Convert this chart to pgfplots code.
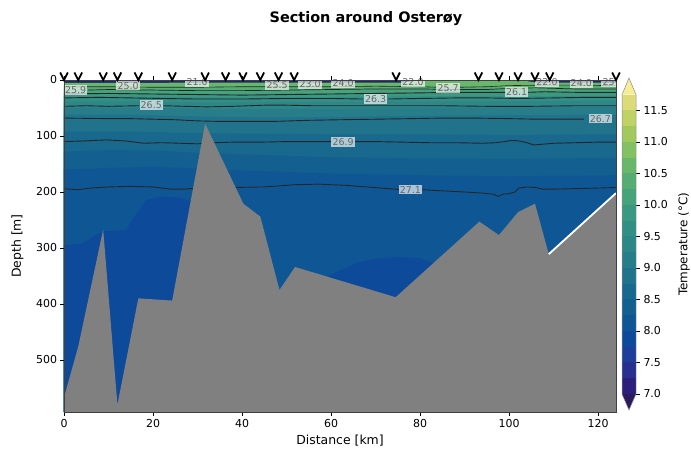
\documentclass[border=0pt]{standalone}
\usepackage{fontspec}
\setmainfont{DejaVu Sans}
\usepackage{pgfplots}
\pgfplotsset{compat=1.18}

\definecolor{bund}{HTML}{2A1A5E}
\definecolor{b0}{HTML}{2C1F7C}
\definecolor{b1}{HTML}{28308F}
\definecolor{b2}{HTML}{1D3F9B}
\definecolor{b3}{HTML}{0E4A9A}
\definecolor{b4}{HTML}{0F5794}
\definecolor{b5}{HTML}{135F90}
\definecolor{b6}{HTML}{19688D}
\definecolor{b7}{HTML}{20738B}
\definecolor{b8}{HTML}{277D8A}
\definecolor{b9}{HTML}{2D8688}
\definecolor{b10}{HTML}{338F86}
\definecolor{b11}{HTML}{3B9982}
\definecolor{b12}{HTML}{47A37C}
\definecolor{b13}{HTML}{56AD74}
\definecolor{b14}{HTML}{69B76B}
\definecolor{b15}{HTML}{84C163}
\definecolor{b16}{HTML}{A2C95E}
\definecolor{b17}{HTML}{C0D265}
\definecolor{b18}{HTML}{DCDB79}
\definecolor{bover}{HTML}{F8ED97}
\definecolor{strip}{HTML}{1F2770}
\definecolor{ground}{HTML}{808080}

\pgfdeclareplotmark{vee}{%
  \pgfsetlinewidth{1.8bp}%
  \pgfpathmoveto{\pgfpoint{-3.8bp}{3.9bp}}%
  \pgfpathlineto{\pgfpoint{0bp}{-3.7bp}}%
  \pgfpathlineto{\pgfpoint{3.8bp}{3.9bp}}%
  \pgfusepathqstroke}

\tikzset{clab/.style={font=\fontsize{9.5}{10}\selectfont, text=black!60, fill=white, fill opacity=0.65, text opacity=1, inner sep=1.2bp}}
\pgfplotsset{cline/.style={black!85, line width=0.9bp, mark=none}}

\begin{document}
\begin{tikzpicture}
\begin{axis}[
  width=552bp, height=332bp, scale only axis,
  xmin=0, xmax=124, ymin=0, ymax=593, y dir=reverse,
  clip=false, axis on top,
  xtick={0,20,40,60,80,100,120}, ytick={0,100,200,300,400,500},
  xtick pos=both, ytick pos=left, tick align=outside,
  major tick length=3.5bp,
  tick style={black, line width=0.6bp},
  axis line style={black!75, line width=0.6bp},
  ticklabel style={font=\fontsize{11}{13}\selectfont},
  /pgf/number format/assume math mode=true,
  xlabel={Distance [km]}, ylabel={Depth [m]},
  label style={font=\fontsize{12.5}{15}\selectfont},
  xlabel style={at={(axis description cs:0.5,-0.0873)}, anchor=center},
  ylabel style={at={(axis description cs:-0.0842,0.5)}, anchor=center},
]
% temperature bands
\addplot[fill=strip, draw=none] coordinates {(0,0)(124,0)(124,593)(0,593)} -- cycle;
\addplot[fill=b14, draw=none] coordinates {(0,5)(20,5)(40,4.5)(60,4.5)(76,4.5)(79,2)(104,2)(106,4.5)(124,5)(124,593)(0,593)} -- cycle;
\addplot[fill=b13, draw=none] coordinates {(0,12)(10,13)(20,12)(30,11)(40,12)(50,11)(60,11)(70,10)(80,10)(90,11)(100,13)(110,10)(124,9)(124,593)(0,593)} -- cycle;
\addplot[fill=b12, draw=none] coordinates {(0,17)(20,17)(40,18)(60,17)(80,16)(100,17)(124,16)(124,593)(0,593)} -- cycle;
\addplot[fill=b11, draw=none] coordinates {(0,23)(20,24)(40,25)(60,24)(80,22)(100,22)(124,22)(124,593)(0,593)} -- cycle;
\addplot[fill=b10, draw=none] coordinates {(0,29)(20,30)(40,31)(60,30)(80,29)(100,29)(124,28)(124,593)(0,593)} -- cycle;
\addplot[fill=b9, draw=none] coordinates {(0,38)(20,39)(40,40)(60,39)(80,38)(100,38)(124,37)(124,593)(0,593)} -- cycle;
\addplot[fill=b8, draw=none] coordinates {(0,49)(20,50)(40,52)(60,51)(80,50)(100,49)(124,48)(124,593)(0,593)} -- cycle;
\addplot[fill=b7, draw=none] coordinates {(0,62)(15,62)(30,65)(45,67)(60,66)(80,64)(100,63)(124,62)(124,593)(0,593)} -- cycle;
\addplot[fill=b6, draw=none] coordinates {(0,92)(15,92)(30,95)(45,96)(60,97)(80,97)(100,98)(124,97)(124,593)(0,593)} -- cycle;
\addplot[fill=b5, draw=none] coordinates {(0,128)(10,125)(20,126)(30,130)(45,134)(60,138)(80,140)(100,141)(124,139)(124,593)(0,593)} -- cycle;
\addplot[fill=b4, draw=none] coordinates {(0,160)(10,157)(20,155)(30,158)(45,163)(60,167)(80,170)(100,172)(124,170)(124,593)(0,593)} -- cycle;
\addplot[fill=b3, draw=none] coordinates {(0,295)(4,292)(8.8,270)(14,268)(15.5,246)(17,232)(18.5,214)(22,208)(26,210)(30,220)(30,593)(0,593)} -- cycle;
\addplot[fill=b3, draw=none] coordinates {(56,380)(59,352)(62,340)(66,326)(70,319)(75,316)(80,318)(84,330)(84,593)(56,593)} -- cycle;

% density contours
\addplot[cline] coordinates {(0,194)(3,196)(6,193)(10,191)(15,190)(20,191)(24,195)(27,195)(30,193)(33,192)(38,192)(45,191)(52,187)(57,186)(63,188)(68,191)(75.2,195.5)};
\addplot[cline] coordinates {(80.4,196)(85,198)(90,200)(94,202)(96.5,204)(97.5,208)(98.5,204)(100,203)(101.3,200)(102.2,193)(104,191)(106,192)(107.5,195)(110,195)(115,194)(120,193)(124,192)};
\addplot[cline] coordinates {(0,110)(4,109)(9.6,107)(14,109)(18,113)(22,112)(26,113)(30,114)(34,112)(38,111)(44,111)(50,110)(56,110)(60.1,110)};
\addplot[cline] coordinates {(65.3,110)(70,110)(76,111)(82,112)(88,112)(94,113)(97,112)(99,110)(100.5,108)(102,108.5)(104,112)(105.5,116)(107,115)(110,113)(115,112)(120,111)(124,111)};
\addplot[cline] coordinates {(0,68)(5,68.5)(10,69)(15,69)(20,70)(25,71)(30,73)(35,74)(40,74)(47,74)(55,72)(62,71)(70,70)(78,69)(85,68)(92,68)(100,69)(106,70)(112,70)(116.8,70)};
\addplot[cline] coordinates {(0,47)(5,46)(10,47)(16.8,46)};
\addplot[cline] coordinates {(22.4,46)(27,47)(32,48)(38,47)(45,45)(50,45)(56,46)(65,46)(75,46)(85,46)(95,47)(105,47)(115,46)(124,46)};
\addplot[cline] coordinates {(0,32)(8,31)(15,32)(22,33)(30,34)(40,34)(50,33)(60,33)(67.2,34)};
\addplot[cline] coordinates {(72.8,34)(80,33)(88,32)(95,32)(102,33)(110,32)(117,31)(124,31)};
\addplot[cline] coordinates {(0,25)(10,24)(20,25)(30,26)(40,27)(50,26)(60,25)(70,24)(80,23)(88,22)(95,22)(99.2,22)};
\addplot[cline] coordinates {(104.2,22)(108,21)(115,22)(124,22)};
\addplot[cline, line width=0.7bp] coordinates {(5.4,18)(10,17)(20,18)(30,19)(40,19)(50,18)(60,17)(70,16)(80,16)(88,17)(95,17)(100,15)(106,14)(115,16)(124,16)};
\addplot[cline, line width=0.6bp] coordinates {(0,12)(10,12)(20,13)(30,13)(40,12)(50,12)(60,12)(70,11)(80,12)(83.7,13)};
\addplot[cline, line width=0.6bp] coordinates {(88.9,13)(95,12)(100,10)(110,9)(124,10)};

% bathymetry
\addplot[fill=ground, draw=none] coordinates {(0,567)(3.2,476)(8.8,267)(12.0,580)(16.7,390)(24.3,394)(31.7,78)(40.3,221)(44.1,244)(48.4,375)(51.9,334)(74.5,388)(93.3,253)(97.7,277)(102.0,236)(105.8,221)(108.9,311)(124,202)(124,593)(0,593)} -- cycle;
\addplot[white, line width=1.8bp, mark=none] coordinates {(108.9,311)(124,202)};

% contour labels
\node[clab] at (axis cs:2.6,18) {25.9};
\node[clab] at (axis cs:14.4,10) {25.0};
\node[clab] at (axis cs:29.9,3.5) {21.0};
\node[clab] at (axis cs:47.9,9) {25.5};
\node[clab] at (axis cs:55.3,7) {23.0};
\node[clab] at (axis cs:62.7,5) {24.0};
\node[clab] at (axis cs:78.4,3.5) {22.0};
\node[clab] at (axis cs:86.3,14) {25.7};
\node[clab] at (axis cs:101.7,21) {26.1};
\node[clab] at (axis cs:108.5,3.6) {22.0};
\node[clab] at (axis cs:116.2,5.4) {24.0};
\node[clab, anchor=east] at (axis cs:124,3.6) {25};
\node[clab] at (axis cs:19.6,45) {26.5};
\node[clab] at (axis cs:70,34) {26.3};
\node[clab] at (axis cs:120.5,69) {26.7};
\node[clab] at (axis cs:62.7,111) {26.9};
\node[clab] at (axis cs:77.8,196) {27.1};

% stations
\addplot[only marks, mark=vee, black] coordinates {(0,-6.5)(3.2,-6.5)(8.8,-6.5)(12.0,-6.5)(16.7,-6.5)(24.3,-6.5)(31.7,-6.5)(36.3,-6.5)(40.2,-6.5)(44.1,-6.5)(48.2,-6.5)(51.7,-6.5)(74.6,-6.5)(93.1,-6.5)(97.7,-6.5)(102.0,-6.5)(105.8,-6.5)(109.1,-6.5)(124,-6.5)};
\end{axis}

% colorbar
\begin{axis}[
  at={(558bp,18bp)}, anchor=south west,
  width=14bp, height=299.25bp, scale only axis,
  xmin=0, xmax=1, ymin=7, ymax=11.75, clip=false,
  axis line style={draw=none},
  xtick=\empty,
  ytick={7,7.5,8,8.5,9,9.5,10,10.5,11,11.5},
  ytick pos=right, yticklabel pos=right, tick align=outside,
  major tick length=4bp,
  tick style={black, line width=0.6bp},
  /pgf/number format/assume math mode=true,
  yticklabel style={font=\fontsize{11}{13}\selectfont, /pgf/number format/fixed, /pgf/number format/fixed zerofill, /pgf/number format/precision=1},
  ylabel={Temperature (°C)},
  every axis y label/.style={at={(axis description cs:4.43,0.5)}, rotate=90, anchor=center, font=\fontsize{12}{14}\selectfont},
]
\addplot[fill=b0, draw=none] coordinates {(0,7)(1,7)(1,7.25)(0,7.25)} -- cycle;
\addplot[fill=b1, draw=none] coordinates {(0,7.25)(1,7.25)(1,7.5)(0,7.5)} -- cycle;
\addplot[fill=b2, draw=none] coordinates {(0,7.5)(1,7.5)(1,7.75)(0,7.75)} -- cycle;
\addplot[fill=b3, draw=none] coordinates {(0,7.75)(1,7.75)(1,8)(0,8)} -- cycle;
\addplot[fill=b4, draw=none] coordinates {(0,8)(1,8)(1,8.25)(0,8.25)} -- cycle;
\addplot[fill=b5, draw=none] coordinates {(0,8.25)(1,8.25)(1,8.5)(0,8.5)} -- cycle;
\addplot[fill=b6, draw=none] coordinates {(0,8.5)(1,8.5)(1,8.75)(0,8.75)} -- cycle;
\addplot[fill=b7, draw=none] coordinates {(0,8.75)(1,8.75)(1,9)(0,9)} -- cycle;
\addplot[fill=b8, draw=none] coordinates {(0,9)(1,9)(1,9.25)(0,9.25)} -- cycle;
\addplot[fill=b9, draw=none] coordinates {(0,9.25)(1,9.25)(1,9.5)(0,9.5)} -- cycle;
\addplot[fill=b10, draw=none] coordinates {(0,9.5)(1,9.5)(1,9.75)(0,9.75)} -- cycle;
\addplot[fill=b11, draw=none] coordinates {(0,9.75)(1,9.75)(1,10)(0,10)} -- cycle;
\addplot[fill=b12, draw=none] coordinates {(0,10)(1,10)(1,10.25)(0,10.25)} -- cycle;
\addplot[fill=b13, draw=none] coordinates {(0,10.25)(1,10.25)(1,10.5)(0,10.5)} -- cycle;
\addplot[fill=b14, draw=none] coordinates {(0,10.5)(1,10.5)(1,10.75)(0,10.75)} -- cycle;
\addplot[fill=b15, draw=none] coordinates {(0,10.75)(1,10.75)(1,11)(0,11)} -- cycle;
\addplot[fill=b16, draw=none] coordinates {(0,11)(1,11)(1,11.25)(0,11.25)} -- cycle;
\addplot[fill=b17, draw=none] coordinates {(0,11.25)(1,11.25)(1,11.5)(0,11.5)} -- cycle;
\addplot[fill=b18, draw=none] coordinates {(0,11.5)(1,11.5)(1,11.75)(0,11.75)} -- cycle;
\addplot[fill=bover, draw=none] coordinates {(0,11.75)(1,11.75)(0.5,12.016)} -- cycle;
\addplot[fill=bund, draw=none] coordinates {(0,7)(1,7)(0.5,6.746)} -- cycle;
\addplot[draw=black!45, line width=0.5bp, mark=none] coordinates {(0,7)(0.5,6.746)(1,7)(1,11.75)(0.5,12.016)(0,11.75)} -- cycle;
\end{axis}

\node[font=\bfseries\fontsize{14.5}{17}\selectfont] at (302bp,393bp) {Section around Osterøy};

\pgfresetboundingbox
\useasboundingbox (-64bp,-43bp) rectangle (627bp,412bp);
\end{tikzpicture}
\end{document}
